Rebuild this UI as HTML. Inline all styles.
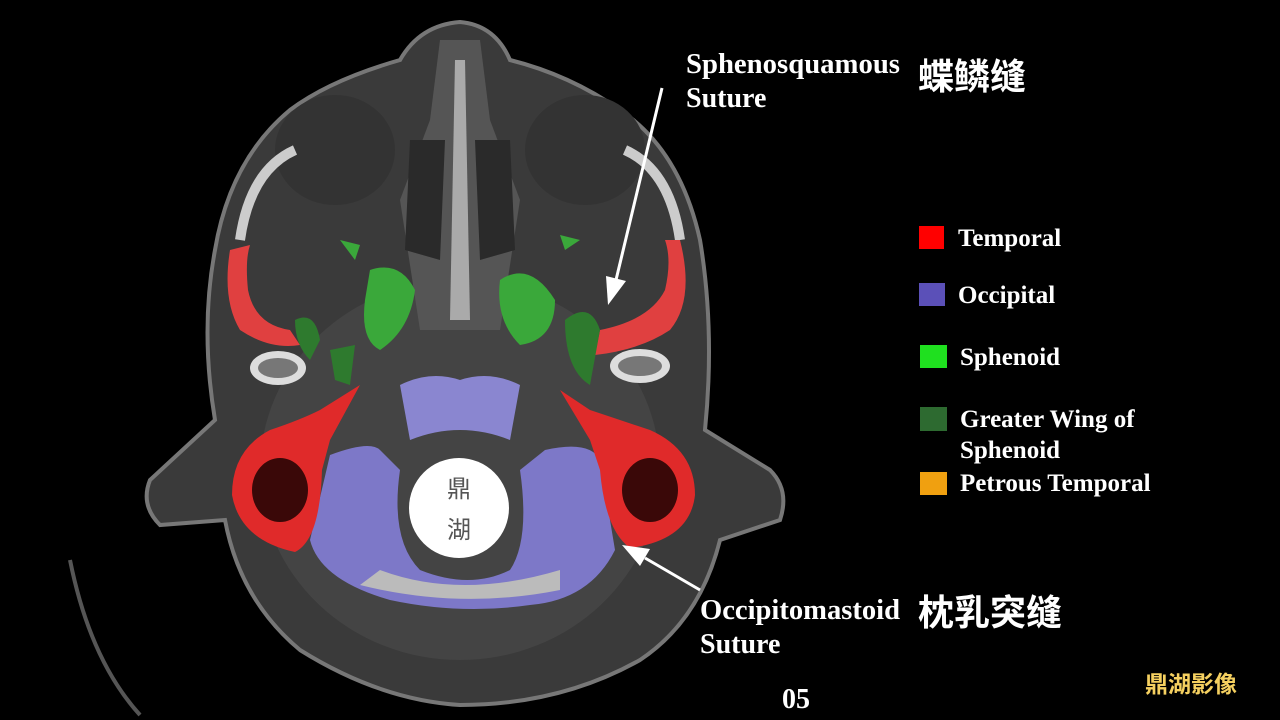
<!DOCTYPE html>
<html><head><meta charset="utf-8"><style>
html,body{margin:0;padding:0;background:#000;width:1280px;height:720px;overflow:hidden}
svg{display:block}
.t{font-family:"Liberation Serif","Noto Serif CJK SC",serif;font-weight:bold;fill:#fff}
.c{font-family:"Liberation Sans","Noto Sans CJK SC",sans-serif;font-weight:bold;fill:#fff}
</style></head><body>
<svg width="1280" height="720" viewBox="0 0 1280 720">
<rect width="1280" height="720" fill="#000"/>
<path d="M70 560 Q90 660 140 715" stroke="#555" stroke-width="4" fill="none"/>
<path d="M460 22 Q420 25 400 60 Q330 80 290 110 Q230 160 215 250 Q200 330 215 420 L150 480 Q140 505 160 525 L225 520 Q240 600 300 650 Q380 700 460 705 Q560 705 640 660 Q700 620 720 540 L780 520 Q790 490 770 470 L705 430 Q715 330 700 240 Q680 150 620 110 Q570 75 510 60 Q495 25 460 22 Z" fill="#3a3a3a" stroke="#777" stroke-width="4"/>
<ellipse cx="460" cy="470" rx="200" ry="190" fill="#444"/>
<ellipse cx="335" cy="150" rx="60" ry="55" fill="#333"/>
<ellipse cx="585" cy="150" rx="60" ry="55" fill="#333"/>
<path d="M440 40 L480 40 L490 120 L520 200 L500 330 L420 330 L400 200 L430 120Z" fill="#555"/>
<path d="M455 60 L465 60 L470 320 L450 320Z" fill="#aaa"/>
<path d="M410 140 L445 140 L440 260 L405 250Z" fill="#2a2a2a"/>
<path d="M475 140 L510 140 L515 250 L480 260Z" fill="#2a2a2a"/>
<path d="M240 240 Q250 170 295 150" stroke="#ccc" stroke-width="10" fill="none"/>
<path d="M680 240 Q670 170 625 150" stroke="#ccc" stroke-width="10" fill="none"/>
<ellipse cx="278" cy="368" rx="28" ry="17" fill="#ddd"/><ellipse cx="278" cy="368" rx="20" ry="10" fill="#777"/>
<ellipse cx="640" cy="366" rx="30" ry="17" fill="#ddd"/><ellipse cx="640" cy="366" rx="22" ry="10" fill="#777"/>
<path d="M230 250 Q222 300 240 330 Q270 350 300 345 L290 330 Q255 325 248 290 Q245 260 250 245Z" fill="#e04040"/>
<path d="M680 240 Q695 300 670 330 Q640 350 595 355 L600 330 Q650 320 665 290 Q672 260 665 240Z" fill="#e04040"/>
<path d="M370 270 Q400 260 415 290 Q410 330 380 350 Q360 340 365 300Z" fill="#3aa83a"/>
<path d="M500 280 Q530 260 555 300 Q555 340 520 345 Q495 320 500 280Z" fill="#3aa83a"/>
<path d="M340 240 L360 245 L355 260Z" fill="#3aa83a"/>
<path d="M560 235 L580 240 L565 250Z" fill="#3aa83a"/>
<path d="M295 320 Q315 310 320 340 L310 360 Q295 345 295 320Z" fill="#2e7a2e"/>
<path d="M565 320 Q590 300 600 330 L590 385 Q565 370 565 320Z" fill="#2e7a2e"/>
<path d="M330 350 L355 345 L350 385 L335 380Z" fill="#2e7a2e"/>
<path d="M400 385 Q430 370 460 380 Q490 370 520 385 L510 440 Q460 420 410 440Z" fill="#8a86d0"/>
<path d="M330 455 Q370 440 380 450 L400 470 Q390 540 420 570 Q470 590 510 570 Q530 540 520 470 L545 450 Q590 440 600 460 L615 550 Q590 600 530 605 Q460 615 390 600 Q320 580 310 540Z" fill="#7d78c8"/>
<path d="M380 570 Q460 600 560 570 L560 590 Q460 610 360 585Z" fill="#bbb"/>
<path d="M360 385 L320 410 Q300 420 270 430 Q232 450 232 495 Q240 540 295 552 Q320 540 322 470 L330 440Z" fill="#e02a2a"/>
<ellipse cx="280" cy="490" rx="28" ry="32" fill="#3a0808"/>
<path d="M560 390 L590 410 Q620 420 650 430 Q695 450 695 495 Q690 540 630 548 Q605 530 600 470 L590 440Z" fill="#e02a2a"/>
<ellipse cx="650" cy="490" rx="28" ry="32" fill="#3a0808"/>
<circle cx="459" cy="508" r="50" fill="#fff"/>
<text x="459" y="497" text-anchor="middle" font-size="24" fill="#555" font-family="Noto Sans CJK SC,sans-serif">鼎</text>
<text x="459" y="538" text-anchor="middle" font-size="24" fill="#555" font-family="Noto Sans CJK SC,sans-serif">湖</text>
<line x1="662" y1="88" x2="616" y2="280" stroke="#fff" stroke-width="3"/>
<polygon points="608,305 606,276 626,281" fill="#fff"/>
<line x1="700" y1="590" x2="645" y2="558" stroke="#fff" stroke-width="3"/>
<polygon points="622,545 650,549 640,566" fill="#fff"/>
<text class="t" x="686" y="73" font-size="28" textLength="214" lengthAdjust="spacingAndGlyphs">Sphenosquamous</text>
<text class="t" x="686" y="107" font-size="28">Suture</text>
<text class="c" x="918" y="89" font-size="36">蝶鳞缝</text>
<text class="t" x="700" y="619" font-size="28" textLength="200" lengthAdjust="spacingAndGlyphs">Occipitomastoid</text>
<text class="t" x="700" y="653" font-size="28">Suture</text>
<text class="c" x="918" y="625" font-size="36">枕乳突缝</text>
<rect x="919" y="226" width="25" height="23" fill="#f00"/>
<text class="t" x="958" y="246" font-size="25">Temporal</text>
<rect x="919" y="283" width="26" height="23" fill="#5b50b8"/>
<text class="t" x="958" y="303" font-size="25">Occipital</text>
<rect x="920" y="345" width="27" height="23" fill="#1fe01f"/>
<text class="t" x="960" y="365" font-size="25">Sphenoid</text>
<rect x="920" y="407" width="27" height="24" fill="#2d6a30"/>
<text class="t" x="960" y="427" font-size="25">Greater Wing of</text>
<text class="t" x="960" y="458" font-size="25">Sphenoid</text>
<rect x="920" y="472" width="27" height="23" fill="#f0a010"/>
<text class="t" x="960" y="491" font-size="25">Petrous Temporal</text>
<text class="t" x="782" y="708" font-size="28">05</text>
<text class="c" x="1145" y="692" font-size="23" style="fill:#f5d060">鼎湖影像</text>
</svg>
</body></html>
